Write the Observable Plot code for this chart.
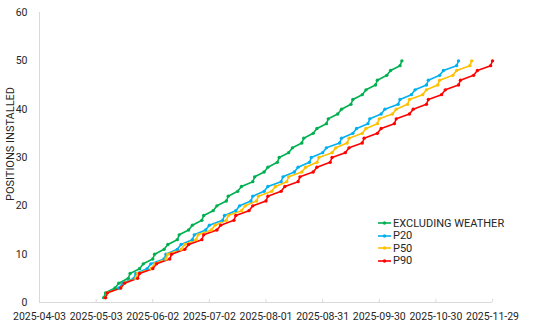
<!DOCTYPE html>
<html><head><meta charset="utf-8">
<script src="https://cdn.jsdelivr.net/npm/d3@7"></script>
<script src="https://cdn.jsdelivr.net/npm/@observablehq/plot@0.6"></script>
<style>
body{margin:0;background:#fff;}
#wrap{position:relative;width:550px;height:328px;font-family:Roboto,sans-serif;}
#ylabel{position:absolute;left:10px;top:144px;transform:translate(-50%,-50%) rotate(-90deg);font-size:11px;color:#262626;white-space:nowrap;}
#legend{position:absolute;left:378px;top:217px;font-size:11px;color:#262626;}
.row{display:flex;align-items:center;height:12.5px;}
.row svg{margin-right:2px;}
</style></head><body><div id="wrap"></div>
<script>
const startDate = "2025-04-03";
const seriesNames = ["EXCLUDING WEATHER", "P20", "P50", "P90"];
const seriesColors = ["#00B050", "#00B0F0", "#FFC000", "#FF0000"];
const positions = [1,2,3,4,5,6,7,8,9,10,11,12,13,14,15,16,17,18,19,20,21,22,23,24,25,26,27,28,29,30,31,32,33,34,35,36,37,38,39,40,41,42,43,44,45,46,47,48,49,50];
// days since 2025-04-03 at which each position is installed
const exclWeatherDays = [34,35,40,42,47,48,53,55,60,61,66,68,73,74,79,81,86,87,92,94,99,100,105,107,113,114,119,121,126,127,132,134,139,140,145,147,152,153,158,160,165,166,171,173,178,179,184,186,191,192];
const p20Days = [35,36,42,44,50,51,57,59,66,67,73,75,81,82,88,90,97,98,104,106,112,113,119,121,128,129,135,137,143,144,150,152,159,160,166,168,174,175,181,183,190,191,197,199,205,206,212,214,221,222];
const p50Days = [35,36,43,45,51,52,59,61,67,68,75,77,83,84,91,93,99,100,107,109,115,116,123,125,131,132,139,141,147,148,155,157,163,164,171,173,179,180,187,189,195,196,203,205,211,212,219,221,228,229];
const p90Days = [35,36,43,45,52,53,60,62,69,70,77,79,86,87,94,96,103,104,111,113,120,121,128,130,137,138,145,147,154,155,162,164,171,172,179,181,188,189,196,198,205,206,213,215,222,223,230,232,239,240];
const xTickLabels = ["2025-04-03","2025-05-03","2025-06-02","2025-07-02","2025-08-01","2025-08-31","2025-09-30","2025-10-30","2025-11-29"];
const yTicks = [0,10,20,30,40,50,60];
const yLabel = "POSITIONS INSTALLED";

const t0 = new Date(startDate + "T00:00:00Z");
const seriesDays = [exclWeatherDays, p20Days, p50Days, p90Days];
const data = [];
seriesNames.forEach((name, s) => {
  seriesDays[s].forEach((d, i) => data.push({series: name, date: d3.utcDay.offset(t0, d), value: positions[i]}));
});
const xTicks = xTickLabels.map(s => new Date(s + "T00:00:00Z"));

const chart = Plot.plot({
  width: 550, height: 328,
  marginLeft: 39, marginRight: 58, marginTop: 12, marginBottom: 26,
  style: {fontFamily: "Roboto, sans-serif", fontSize: "10.5px", color: "#262626", background: "#fff"},
  x: {type: "utc", domain: [xTicks[0], xTicks[xTicks.length - 1]]},
  y: {domain: [0, 60]},
  color: {domain: seriesNames, range: seriesColors},
  marks: [
    Plot.ruleY([0], {stroke: "#d9d9d9"}),
    Plot.ruleX([xTicks[0]], {stroke: "#d9d9d9"}),
    Plot.ruleX(xTicks, {y1: 0, y2: 0.6, stroke: "#d9d9d9"}),
    Plot.axisX({ticks: xTicks, tickFormat: d3.utcFormat("%Y-%m-%d"), tickSize: 0, tickPadding: 10, label: null, fontSize: 10.5}),
    Plot.axisY({ticks: yTicks, tickSize: 0, tickPadding: 12, label: null, fontSize: 10.5}),
    Plot.line(data, {x: "date", y: "value", z: "series", stroke: "series", strokeWidth: 1.6}),
    Plot.dot(data, {x: "date", y: "value", fill: "series", r: 1.7})
  ]
});
const wrap = document.getElementById("wrap");
wrap.appendChild(chart);
const yl = document.createElement("div");
yl.id = "ylabel"; yl.textContent = yLabel;
wrap.appendChild(yl);
const leg = document.createElement("div");
leg.id = "legend";
seriesNames.forEach((name, i) => {
  const row = document.createElement("div");
  row.className = "row";
  row.innerHTML = `<svg width="13" height="6"><line x1="0" x2="13" y1="3" y2="3" stroke="${seriesColors[i]}" stroke-width="1.6"/><circle cx="6.5" cy="3" r="1.7" fill="${seriesColors[i]}"/></svg><span></span>`;
  row.querySelector("span").textContent = name;
  leg.appendChild(row);
});
wrap.appendChild(leg);
</script></body></html>
